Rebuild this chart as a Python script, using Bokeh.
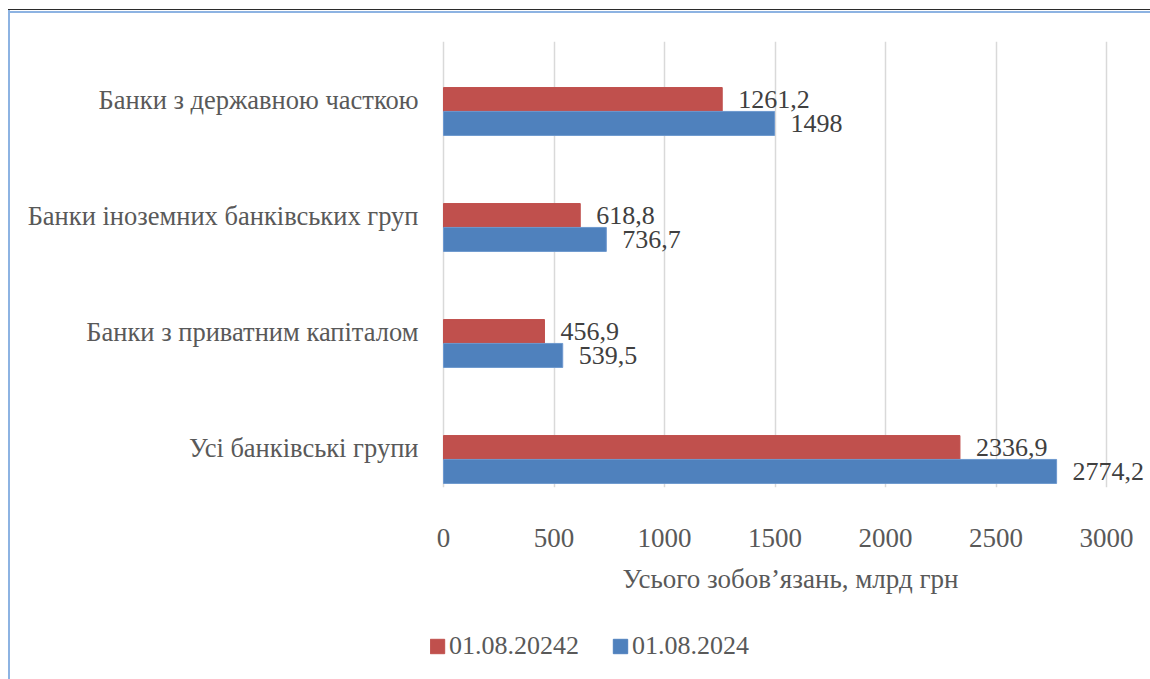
from bokeh.plotting import figure
from bokeh.layouts import column
from bokeh.models import ColumnDataSource, Range1d, FixedTicker, Legend, LegendItem
from bokeh.transform import dodge
from bokeh.core.properties import value
from bokeh.embed import file_html
from bokeh.resources import INLINE

# ---- data (bottom to top, as drawn) ----
categories = [
    "Усі банківські групи",
    "Банки з приватним капіталом",
    "Банки іноземних банківських груп",
    "Банки з державною часткою",
]
series_names = ["01.08.20242", "01.08.2024"]
values_first = [2336.9, 456.9, 618.8, 1261.2]
values_second = [2774.2, 539.5, 736.7, 1498.0]
x_ticks = [0, 500, 1000, 1500, 2000, 2500, 3000]
x_title = "Усього зобов’язань, млрд грн"

RED = "#C0504D"
BLUE = "#4F81BD"
FONT = "Liberation Serif"
GREY = "#595959"
DARK = "#404040"

W, H = 1150, 679
H_MAIN = 602
FL = 430                 # frame left (legend starts here)
X0, X3000 = 443, 1106    # screen x of value 0 and of last tick
FT, FB = 41, 487         # frame top / bottom


def fmt(v):
    return f"{v:g}".replace(".", ",")


src = ColumnDataSource(dict(
    y=list(range(len(categories))),
    first=values_first,
    second=values_second,
    first_lbl=[fmt(v) for v in values_first],
    second_lbl=[fmt(v) for v in values_second],
))

px = (X3000 - X0) / x_ticks[-1]
x_start = -(X0 - FL) / px
x_end = (W - X0) / px

p = figure(
    width=W, height=H_MAIN,
    x_range=Range1d(x_start, x_end), y_range=Range1d(-0.2414, 3.6034),
    output_backend="svg", toolbar_location=None,
    min_border_left=FL, min_border_right=0, min_border_top=FT, min_border_bottom=H_MAIN - FB,
)
p.styles = {
    "background-image": "linear-gradient(#8db3e2,#8db3e2), linear-gradient(#8db3e2,#8db3e2), linear-gradient(#2b2b2b,#2b2b2b)",
    "background-size": "2px 100%, 100% 2px, 100% 1px",
    "background-position": "8px 10px, 8px 11px, 8px 9px",
    "background-repeat": "no-repeat",
    "background-color": "white",
}
p.outline_line_color = None
p.background_fill_color = "white"
p.border_fill_alpha = 0

off = 0.103
bh = 0.207
p.hbar(y=dodge("y", off), left=0, right="first", height=bh, source=src,
       fill_color=RED, line_color=RED)
p.hbar(y=dodge("y", -off), left=0, right="second", height=bh, source=src,
       fill_color=BLUE, line_color="#6d98cf")

p.text(x="first", y=dodge("y", off), text="first_lbl", source=src, x_offset=16,
       text_baseline="middle", text_align="left", text_font=value(FONT),
       text_font_size="26px", text_color=DARK)
p.text(x="second", y=dodge("y", -off), text="second_lbl", source=src, x_offset=16,
       text_baseline="middle", text_align="left", text_font=value(FONT),
       text_font_size="26px", text_color=DARK)

# axes
lbl_off = 0.095
yt = [i + lbl_off for i in range(len(categories))]
p.yaxis.ticker = FixedTicker(ticks=yt)
p.yaxis.major_label_overrides = {t: c for t, c in zip(yt, categories)}
p.xaxis.ticker = FixedTicker(ticks=x_ticks)
p.xaxis.axis_label = x_title

for ax in (p.xaxis[0], p.yaxis[0]):
    ax.axis_line_color = None
    ax.major_tick_line_color = None
    ax.minor_tick_line_color = None
    ax.major_tick_out = 0
    ax.major_label_text_font = FONT
    ax.major_label_text_font_size = "27px"
    ax.major_label_text_color = GREY

p.yaxis.major_label_text_font_size = "26.5px"
p.yaxis.major_label_standoff = 12
p.xaxis.major_label_standoff = 41
p.xaxis.axis_label_text_font = FONT
p.xaxis.axis_label_text_font_size = "27px"
p.xaxis.axis_label_text_font_style = "normal"
p.xaxis.axis_label_text_color = GREY
p.xaxis.axis_label_standoff = 14

p.ygrid.grid_line_color = None
p.xgrid.grid_line_color = "#d9d9d9"
p.xgrid.grid_line_width = 1.5

# ---- legend strip below the chart ----
lf = figure(
    width=W, height=H - H_MAIN, x_range=Range1d(0, 1), y_range=Range1d(0, 1),
    x_axis_type=None, y_axis_type=None,
    output_backend="svg", toolbar_location=None, min_border=0,
)
lf.styles = {
    "background-image": "linear-gradient(#8db3e2,#8db3e2)",
    "background-size": "2px 100%",
    "background-position": "8px 0px",
    "background-repeat": "no-repeat",
    "background-color": "white",
}
lf.outline_line_color = None
lf.background_fill_alpha = 0
lf.border_fill_alpha = 0
lf.grid.grid_line_color = None
# legend proxies (hidden renderers of the same series)
lr1 = lf.hbar(y="y", right="first", height=bh, source=src, fill_color=RED, line_color=RED, visible=False)
lr2 = lf.hbar(y="y", right="second", height=bh, source=src, fill_color=BLUE, line_color=BLUE, visible=False)

legend = Legend(
    items=[LegendItem(label=series_names[0], renderers=[lr1]),
           LegendItem(label=series_names[1], renderers=[lr2])],
    orientation="horizontal", location=(-2, 18),
    glyph_width=18, glyph_height=18, label_standoff=3, spacing=32,
    padding=0, margin=0, border_line_color=None, background_fill_alpha=0,
    inactive_fill_alpha=0,
    label_text_font=FONT, label_text_font_size="26px", label_text_color=GREY,
)
lf.add_layout(legend)

layout = column(p, lf, spacing=0)
open("out.html", "w").write(file_html(layout, INLINE))
